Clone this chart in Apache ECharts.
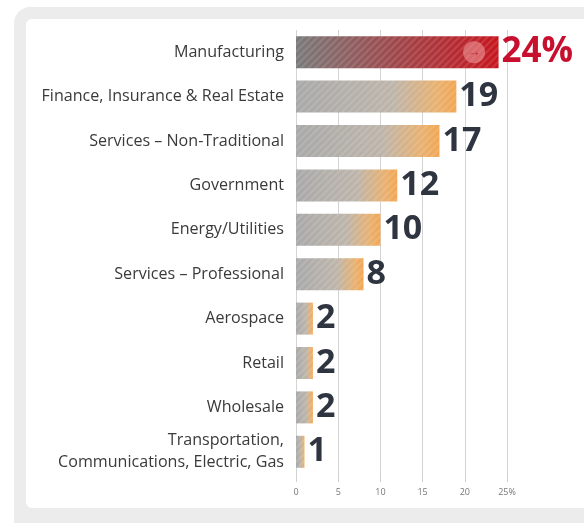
<!DOCTYPE html>
<html>
<head>
<meta charset="utf-8">
<script src="https://cdn.jsdelivr.net/npm/echarts@6/dist/echarts.min.js"></script>
<style>
html,body{margin:0;padding:0;background:#fff;}
#c{width:584px;height:523px;}
</style>
</head>
<body>
<div id="c"></div>
<script>
const categories = ['Manufacturing', 'Finance, Insurance & Real Estate', 'Services – Non-Traditional', 'Government', 'Energy/Utilities', 'Services – Professional', 'Aerospace', 'Retail', 'Wholesale', 'Transportation,\nCommunications, Electric, Gas'];
const values = [24, 19, 17, 12, 10, 8, 2, 2, 2, 1];
const tickLabels = ['0', '5', '10', '15', '20', '25%'];

const grayOrange = new echarts.graphic.LinearGradient(0, 0, 1, 0, [
  {offset: 0, color: '#a9a9a9'},
  {offset: 0.6, color: '#bdb5ab'},
  {offset: 0.88, color: '#e9b170'},
  {offset: 1, color: '#f2a653'}
]);
const grayRed = new echarts.graphic.LinearGradient(0, 0, 1, 0, [
  {offset: 0, color: '#7b7b7b'},
  {offset: 0.5, color: '#a0474b'},
  {offset: 1, color: '#c7161f'}
]);

const chart = echarts.init(document.getElementById('c'));
chart.setOption({
  animation: false,
  graphic: [
    {type: 'rect', z: -10, shape: {x: 14, y: 7, width: 640, height: 560, r: 16}, style: {fill: '#ececec'}},
    {type: 'rect', z: -9, shape: {x: 26, y: 19, width: 620, height: 489, r: 6}, style: {fill: '#ffffff'}}
  ],
  grid: {left: 296, right: 77, top: 30, bottom: 49},
  xAxis: {
    type: 'value', min: 0, max: 25, interval: 5,
    axisLine: {show: false},
    axisTick: {show: true, length: 8, lineStyle: {color: '#cfcfcf'}},
    splitLine: {show: true, lineStyle: {color: '#d4d4d4', width: 1}},
    axisLabel: {
      margin: 14, color: '#777', fontSize: 9, fontFamily: 'Open Sans',
      formatter: function (v) { return tickLabels[Math.round(v / 5)]; }
    }
  },
  yAxis: {
    type: 'category', data: categories, inverse: true,
    axisLine: {show: false}, axisTick: {show: false},
    axisLabel: {margin: 12, color: '#3a3a3a', fontSize: 16.1, fontFamily: 'Open Sans', lineHeight: 22, align: 'right'}
  },
  series: [{
    type: 'bar',
    barWidth: 32,
    data: values.map(function (v, i) {
      if (i === 0) {
        return {
          value: v,
          itemStyle: {color: grayRed},
          label: {formatter: '{c}%', color: '#c8102e', fontSize: 35}
        };
      }
      return {value: v};
    }),
    itemStyle: {
      color: grayOrange,
      decal: {symbol: 'rect', dashArrayX: [1, 0], dashArrayY: [2, 3], rotation: -Math.PI / 4, color: 'rgba(255,255,255,0.12)'}
    },
    label: {
      show: true, position: 'right', distance: 3,
      color: '#2e3540', fontSize: 34, fontWeight: 'bold', fontFamily: 'Open Sans'
    },
    markPoint: {
      symbol: 'circle', symbolSize: 22,
      itemStyle: {color: 'rgba(240,160,160,0.55)'},
      label: {show: true, formatter: '→', color: 'rgba(180,40,50,0.8)', fontSize: 14, fontWeight: 'bold'},
      data: [{coord: [21.1, 'Manufacturing']}]
    }
  }]
});
</script>
</body>
</html>
